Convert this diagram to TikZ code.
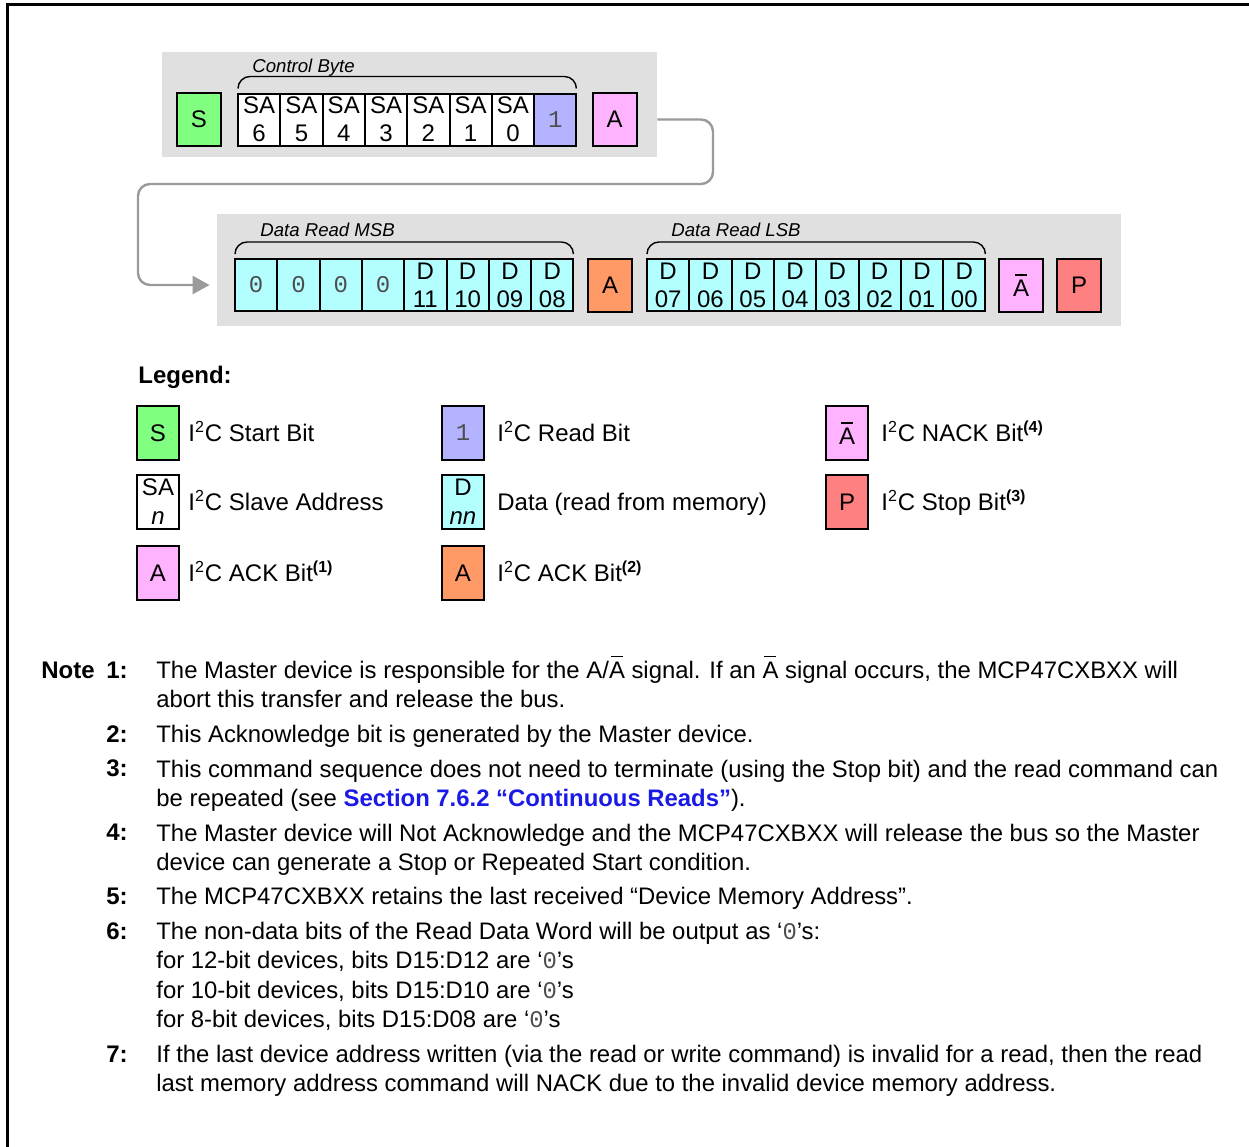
\documentclass[tikz,border=0pt]{standalone}
\usepackage{fontspec}
\setmainfont{Liberation Sans}
\setmonofont{Liberation Mono}
\usepackage{xcolor}
\usetikzlibrary{arrows.meta,positioning}
\definecolor{panel}{HTML}{E0E0E0}
\definecolor{startg}{HTML}{80FF80}
\definecolor{readb}{HTML}{B3B3FF}
\definecolor{ackp}{HTML}{FFB3FF}
\definecolor{ackm}{HTML}{FF9966}
\definecolor{stopr}{HTML}{FF8080}
\definecolor{datac}{HTML}{B3FFFF}
\definecolor{flowg}{HTML}{9A9A9A}
\definecolor{monog}{HTML}{4D4D4D}
\definecolor{linkb}{HTML}{1A1AE6}
\newcommand\nak{\makebox[0pt][l]{\hspace{0.08em}\rule[0.86em]{0.5em}{0.07em}}A}
\newcommand\zro{{\ttfamily\color{monog}0}}
\newcommand\one{{\ttfamily\color{monog}1}}
\newcommand\iic{I\textsuperscript{2}C}
\tikzset{
  bitbox/.style={rectangle, draw=black, fill=#1, line width=1pt,
    minimum width=22pt, minimum height=26.5pt, inner sep=0pt,
    font=\fontsize{12}{14.5}\selectfont, align=center},
  bitbox/.default=white,
  cellbox/.style={rectangle, draw=black, fill=#1, line width=1pt,
    minimum width=21.15pt, minimum height=26pt, inner sep=0pt, outer sep=0pt,
    font=\fontsize{12}{14}\selectfont, align=center},
  cellbox/.default=white,
  legbox/.style={bitbox=#1, minimum width=21pt, minimum height=27pt},
  legbox/.default=white,
  panelbox/.style={rectangle, fill=panel, inner sep=0pt},
  bytelabel/.style={font=\fontsize{9.3}{11}\selectfont\itshape, inner sep=0pt},
  bracket/.style={line width=0.7pt},
  flowline/.style={-{Triangle[length=8.5pt,width=9pt]}, draw=flowg,
    line width=1.2pt, rounded corners=6pt},
  legtext/.style={font=\fontsize{12}{14.5}\selectfont, inner sep=0pt},
  notetext/.style={font=\fontsize{11.94}{14.75}\selectfont, inner sep=0pt, align=left},
  notenum/.style={font=\fontsize{12}{14.75}\selectfont\bfseries, inner sep=0pt},
}
\begin{document}
\begin{tikzpicture}[x=0.5pt, y=-0.5pt]
\useasboundingbox (0,0) rectangle (1249,1147);
% open frame
\draw[line width=1.5pt] (7,1147) -- (7,4) -- (1249,4);

% Control byte row
\node[panelbox, minimum width=247.5pt, minimum height=52.5pt] (pan1) at (409.5,104.5) {};
\node[bitbox=startg] (st) at (199,119.5) {S};
\node[cellbox, anchor=west] (sa6) at (238,119.5) {SA\\6};
\node[cellbox, right=0pt of sa6] (sa5) {SA\\5};
\node[cellbox, right=0pt of sa5] (sa4) {SA\\4};
\node[cellbox, right=0pt of sa4] (sa3) {SA\\3};
\node[cellbox, right=0pt of sa3] (sa2) {SA\\2};
\node[cellbox, right=0pt of sa2] (sa1) {SA\\1};
\node[cellbox, right=0pt of sa1] (sa0) {SA\\0};
\node[cellbox=readb, right=0pt of sa0] (rd) {\one};
\node[bitbox=ackp] (ack1) at (614.5,119.5) {A};
\draw[bracket] ([yshift=2.5pt]sa6.north west) to[out=90,in=180]
  ([xshift=6pt,yshift=8.5pt]sa6.north west) -- ([xshift=-6pt,yshift=8.5pt]rd.north east)
  to[out=0,in=90] ([yshift=2.5pt]rd.north east);
\node[bytelabel, anchor=base west] (cbl) at (252,72) {Control Byte};

% Data read row
\node[panelbox, minimum width=452pt, minimum height=56pt] (pan2) at (669,270) {};
\node[cellbox=datac, anchor=west] (dm15) at (235,285) {\zro};
\node[cellbox=datac, right=0pt of dm15] (dm14) {\zro};
\node[cellbox=datac, right=0pt of dm14] (dm13) {\zro};
\node[cellbox=datac, right=0pt of dm13] (dm12) {\zro};
\node[cellbox=datac, right=0pt of dm12] (d11) {D\\11};
\node[cellbox=datac, right=0pt of d11] (d10) {D\\10};
\node[cellbox=datac, right=0pt of d10] (d09) {D\\09};
\node[cellbox=datac, right=0pt of d09] (d08) {D\\08};
\node[bitbox=ackm] (ack2) at (610,285) {A};
\node[cellbox=datac, anchor=west] (d07) at (647,285) {D\\07};
\node[cellbox=datac, right=0pt of d07] (d06) {D\\06};
\node[cellbox=datac, right=0pt of d06] (d05) {D\\05};
\node[cellbox=datac, right=0pt of d05] (d04) {D\\04};
\node[cellbox=datac, right=0pt of d04] (d03) {D\\03};
\node[cellbox=datac, right=0pt of d03] (d02) {D\\02};
\node[cellbox=datac, right=0pt of d02] (d01) {D\\01};
\node[cellbox=datac, right=0pt of d01] (d00) {D\\00};
\node[bitbox=ackp] (nack) at (1021,285) {\nak};
\node[bitbox=stopr] (stp) at (1079,285) {P};
\draw[bracket] ([yshift=2.5pt]dm15.north west) to[out=90,in=180]
  ([xshift=6pt,yshift=8.5pt]dm15.north west) -- ([xshift=-6pt,yshift=8.5pt]d08.north east)
  to[out=0,in=90] ([yshift=2.5pt]d08.north east);
\draw[bracket] ([yshift=2.5pt]d07.north west) to[out=90,in=180]
  ([xshift=6pt,yshift=8.5pt]d07.north west) -- ([xshift=-6pt,yshift=8.5pt]d00.north east)
  to[out=0,in=90] ([yshift=2.5pt]d00.north east);
\node[bytelabel, anchor=base west] (msbl) at (260,236) {Data Read MSB};
\node[bytelabel, anchor=base west] (lsbl) at (671,236) {Data Read LSB};

% wrap-around connector
\coordinate (entry) at ([xshift=-3.5pt]pan2.west |- dm15.west);
\draw[flowline] (ack1.east -| pan1.east) -- (713,119.5) -- (713,184)
  -- (138,184) -- (138,285) -- (entry);

% Legend
\node[notenum, anchor=base west] (leg) at (138,383) {Legend:};
\node[legbox=startg] (lg1) at (158,433) {S};
\node[legtext, anchor=base west] (lt1) at ([xshift=4pt,yshift=-4.25pt]lg1.east) {\iic{} Start Bit};
\node[legbox] (lg2) at (158,502) {SA\\\itshape n};
\node[legtext, anchor=base west] (lt2) at ([xshift=4pt,yshift=-4.25pt]lg2.east) {\iic{} Slave Address};
\node[legbox=ackp] (lg3) at (158,573) {A};
\node[legtext, anchor=base west] (lt3) at ([xshift=4pt,yshift=-4.25pt]lg3.east) {\iic{} ACK Bit\textsuperscript{\bfseries(1)}};
\node[legbox=readb] (lg4) at (463,433) {\one};
\node[legtext, anchor=base west] (lt4) at ([xshift=6pt,yshift=-4.25pt]lg4.east) {\iic{} Read Bit};
\node[legbox=datac] (lg5) at (463,502) {D\\\itshape nn};
\node[legtext, anchor=base west] (lt5) at ([xshift=6pt,yshift=-4.25pt]lg5.east) {Data (read from memory)};
\node[legbox=ackm] (lg6) at (463,573) {A};
\node[legtext, anchor=base west] (lt6) at ([xshift=6pt,yshift=-4.25pt]lg6.east) {\iic{} ACK Bit\textsuperscript{\bfseries(2)}};
\node[legbox=ackp] (lg7) at (847,433) {\nak};
\node[legtext, anchor=base west] (lt7) at ([xshift=6pt,yshift=-4.25pt]lg7.east) {\iic{} NACK Bit\textsuperscript{\bfseries(4)}};
\node[legbox=stopr] (lg8) at (847,502) {P};
\node[legtext, anchor=base west] (lt8) at ([xshift=6pt,yshift=-4.25pt]lg8.east) {\iic{} Stop Bit\textsuperscript{\bfseries(3)}};

% Notes (multi-line nodes sit on their last baseline)
\node[notenum, anchor=base west] (note) at (41,678.5) {Note};
\node[notenum, anchor=base east] (k1) at (128,678.5) {1:};
\node[notetext, anchor=base west] (n1) at (156,707.5) {The Master device is responsible for the A/\nak{} signal. If an \nak{} signal occurs, the MCP47CXBXX will\\abort this transfer and release the bus.};
\node[notenum, anchor=base east] (k2) at (128,742.5) {2:};
\node[notetext, anchor=base west] (n2) at (156,742.5) {This Acknowledge bit is generated by the Master device.};
\node[notenum, anchor=base east] (k3) at (128,776.5) {3:};
\node[notetext, anchor=base west] (n3) at (156,806.5) {This command sequence does not need to terminate (using the Stop bit) and the read command can\\be repeated (see {\bfseries\color{linkb}Section 7.6.2 “Continuous Reads”}).};
\node[notenum, anchor=base east] (k4) at (128,840.5) {4:};
\node[notetext, anchor=base west] (n4) at (156,870.5) {The Master device will Not Acknowledge and the MCP47CXBXX will release the bus so the Master\\device can generate a Stop or Repeated Start condition.};
\node[notenum, anchor=base east] (k5) at (128,904.5) {5:};
\node[notetext, anchor=base west] (n5) at (156,904.5) {The MCP47CXBXX retains the last received “Device Memory Address”.};
\node[notenum, anchor=base east] (k6) at (128,939.5) {6:};
\node[notetext, anchor=base west] (n6) at (156,1027.5) {The non-data bits of the Read Data Word will be output as ‘\zro’s:\\for 12-bit devices, bits D15:D12 are ‘\zro’s\\for 10-bit devices, bits D15:D10 are ‘\zro’s\\for 8-bit devices, bits D15:D08 are ‘\zro’s};
\node[notenum, anchor=base east] (k7) at (128,1062.5) {7:};
\node[notetext, anchor=base west] (n7) at (156,1091.5) {If the last device address written (via the read or write command) is invalid for a read, then the read\\last memory address command will NACK due to the invalid device memory address.};
\end{tikzpicture}
\end{document}
